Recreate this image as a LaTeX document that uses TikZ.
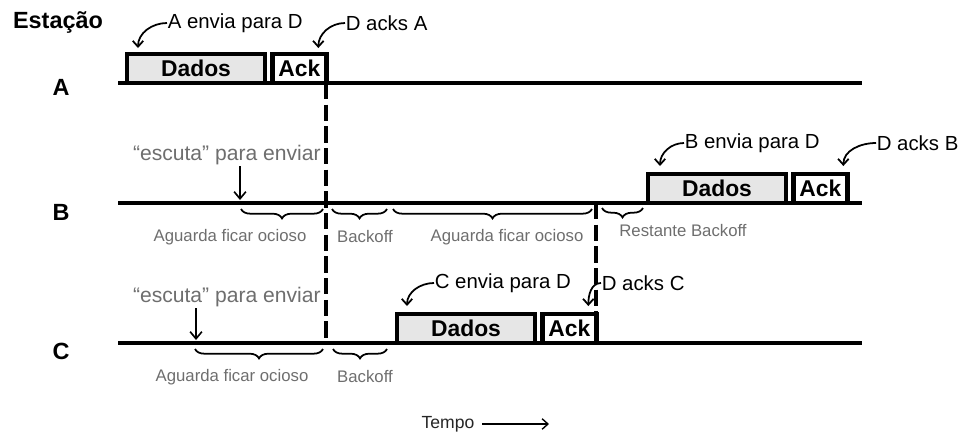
\documentclass[tikz,border=0pt]{standalone}
\usepackage{fontspec}
\setmainfont{Liberation Sans}
\usetikzlibrary{positioning,arrows.meta,decorations.pathreplacing}

\definecolor{cinza}{HTML}{6E6E6E}
\definecolor{fundo}{HTML}{E6E6E6}

\tikzset{
  linha/.style={line width=3pt},
  quadro/.style={draw,line width=4pt,outer sep=0pt,inner sep=0pt,minimum height=0.87cm,
    anchor=south west,font=\fontsize{19.5}{20}\selectfont\bfseries},
  dados/.style={quadro,fill=fundo,minimum width=4.14cm},
  ack/.style={quadro,fill=white,minimum width=1.62cm},
  tracejado/.style={line width=3.6pt,dash pattern=on 14pt off 4.5pt},
  estacao/.style={font=\fontsize{20}{22}\selectfont\bfseries},
  nota/.style={font=\fontsize{17.4}{18}\selectfont,inner sep=0.5pt,anchor=west},
  escuta/.style={font=\fontsize{18}{19}\selectfont,text=cinza,inner sep=1pt},
  rotulo/.style={font=\fontsize{14.3}{15}\selectfont,text=cinza,inner sep=0pt},
  curva/.style={line width=1.5pt,-{Straight Barb[length=5pt,width=9pt]}},
  desce/.style={line width=1.4pt,-{Straight Barb[length=6pt,width=10pt]}},
  chave/.style={line width=1.5pt,decorate,decoration={brace,mirror,amplitude=8pt}}
}

\begin{document}
\begin{tikzpicture}[x=0.03cm,y=-0.03cm]
  \useasboundingbox (0,0) rectangle (962,436);

  \node[estacao] (titulo) at (58,22) {Estação};
  \node[estacao] (A) at (61,87) {A};
  \node[estacao] (B) at (61,212) {B};
  \node[estacao] (C) at (61,351) {C};

  \coordinate (a0) at (118,83);  \coordinate (a1) at (862,83);
  \coordinate (b0) at (118,203); \coordinate (b1) at (862,203);
  \coordinate (c0) at (118,343); \coordinate (c1) at (862,343);
  \draw[linha] (a0) -- (a1);
  \draw[linha] (b0) -- (b1);
  \draw[linha] (c0) -- (c1);

  \node[dados] (datA) at (127,83) {Dados};
  \node[ack,right=0.22cm of datA] (ackA) {Ack};
  \node[dados] (datB) at (648,203) {Dados};
  \node[ack,right=0.22cm of datB] (ackB) {Ack};
  \node[dados] (datC) at (397,343) {Dados};
  \node[ack,right=0.22cm of datC] (ackC) {Ack};

  \draw[tracejado] (ackA.south east) -- (ackA.south east |- c0);
  \draw[tracejado] (ackC.north east |- b0) -- (ackC.north east);

  \node[nota] (envA) at (167,23) {A envia para D};
  \node[nota] (ackTxtA) at (345,23) {D acks A};
  \node[nota] (envB) at (684,143) {B envia para D};
  \node[nota] (ackTxtB) at (876,143) {D acks B};
  \node[nota] (envC) at (434,283) {C envia para D};
  \node[nota] (ackTxtC) at (601,283) {D acks C};
  \draw[curva] (envA.west) to[out=180,in=90] ([shift={(11,-6)}]datA.north west);
  \draw[curva] (ackTxtA.west) to[out=180,in=90] ([shift={(-8,-6)}]ackA.north east);
  \draw[curva] (envB.west) to[out=180,in=90] ([shift={(12,-8)}]datB.north west);
  \draw[curva] (ackTxtB.west) to[out=180,in=90] ([shift={(-4,-8)}]ackB.north east);
  \draw[curva] (envC.west) to[out=180,in=90] ([shift={(10,-8)}]datC.north west);
  \draw[curva] (ackTxtC.west) to[out=180,in=90] ([shift={(-8,-8)}]ackC.north east);

  \node[escuta,anchor=east] (escB) at (322,155) {“escuta” para enviar};
  \node[escuta,anchor=east] (escC) at (322,297) {“escuta” para enviar};
  \coordinate (pontoB) at (240,200);
  \coordinate (pontoC) at (196,340);
  \draw[desce] (escB.south -| pontoB) -- (pontoB);
  \draw[desce] (escC.south -| pontoC) -- (pontoC);

  \draw[chave] (241,209) -- (323,209);
  \draw[chave] (332,209) -- (387,209);
  \draw[chave] (393,209) -- (592,209);
  \draw[chave] (602,208) -- (643,208);
  \draw[chave] (195,349) -- (323,349);
  \draw[chave] (333,349) -- (387,349);

  \node[rotulo] (ociB1) at (230,237) {Aguarda ficar ocioso};
  \node[rotulo] (bkB) at (365,237) {Backoff};
  \node[rotulo] (ociB2) at (507,237) {Aguarda ficar ocioso};
  \node[rotulo] (restB) at (683,231) {Restante Backoff};
  \node[rotulo] (ociC) at (232,377) {Aguarda ficar ocioso};
  \node[rotulo] (bkC) at (365,377) {Backoff};

  \node[font=\fontsize{15}{16}\selectfont,text=black!85] (tempo) at (448,424) {Tempo};
  \coordinate (tempoFim) at (549,424);
  \draw[line width=1.2pt,-{Straight Barb[length=5pt,width=9pt]}] ([xshift=3pt]tempo.east) -- (tempoFim);
\end{tikzpicture}
\end{document}
